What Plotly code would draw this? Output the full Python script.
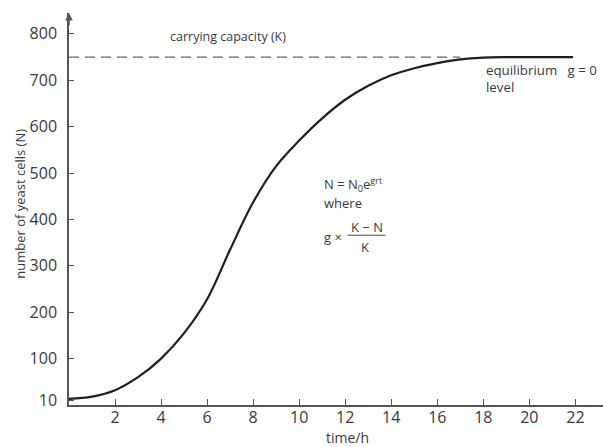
import plotly.graph_objects as go

# Data
time_h = [0, 1, 2, 3, 4, 5, 6, 7, 8, 9, 10, 11, 12, 13, 14, 15, 16, 17, 18, 19, 20, 21, 21.9]
cells_N = [13, 18, 32, 60, 100, 155, 228, 335, 437, 515, 570, 618, 658, 688, 711, 726, 737, 745, 749, 750, 750, 750, 750]

carrying_capacity_K = 750
k_line_time = [0, 17]

x_ticks = [2, 4, 6, 8, 10, 12, 14, 16, 18, 20, 22]
y_ticks = [10, 100, 200, 300, 400, 500, 600, 700, 800]

FONT = "Open Sans"
TXT = "#3a3a3a"
AX = "#555555"

fig = go.Figure()

fig.add_trace(go.Scatter(
    x=k_line_time, y=[carrying_capacity_K] * len(k_line_time),
    mode="lines", line=dict(color="#666666", width=1.2, dash="10px,6px"),
    hoverinfo="skip", showlegend=False))

fig.add_trace(go.Scatter(
    x=time_h, y=cells_N, mode="lines",
    line=dict(color="#1e1e1e", width=2.2, shape="spline", smoothing=1.0),
    showlegend=False))

fig.update_layout(
    width=603, height=447,
    margin=dict(l=69, r=0, t=13, b=42, autoexpand=False),
    paper_bgcolor="white", plot_bgcolor="white",
    font=dict(family=FONT, color=TXT, size=15),
    xaxis=dict(range=[0, 23.2], tickvals=x_ticks, ticks="inside", ticklen=6,
               tickcolor=AX, showline=True, linecolor=AX, linewidth=1.5,
               showgrid=False, zeroline=False, tickfont=dict(size=16, color=TXT),
               ticklabelstandoff=-3, automargin=False, fixedrange=True),
    yaxis=dict(range=[0, 845], tickvals=y_ticks, ticks="inside", ticklen=5,
               tickcolor=AX, showline=True, linecolor=AX, linewidth=1.5,
               showgrid=False, zeroline=False, tickfont=dict(size=16, color=TXT),
               ticklabelstandoff=7, automargin=False, fixedrange=True),
)

anns = [
    # arrow at top of y axis
    dict(x=0, y=845, ax=0, ay=815, xref="x", yref="y", axref="x", ayref="y",
         showarrow=True, arrowhead=2, arrowsize=1, arrowwidth=1.5, arrowcolor=AX, text=""),
    dict(x=6.9, y=795, xref="x", yref="y", text="carrying capacity (K)",
         showarrow=False, xanchor="center", yanchor="middle", font=dict(size=12.5)),
    dict(x=18.05, y=745, xref="x", yref="y",
         text="equilibrium&nbsp;&nbsp;&nbsp;g = 0<br>level",
         showarrow=False, xanchor="left", yanchor="top", align="left", font=dict(size=13.3)),
    dict(x=11.0, y=476, xref="x", yref="y",
         text="N = N<sub>0</sub>e<sup>grt</sup>",
         showarrow=False, xanchor="left", yanchor="middle", font=dict(size=13)),
    dict(x=11.0, y=435, xref="x", yref="y", text="where",
         showarrow=False, xanchor="left", yanchor="middle", font=dict(size=13)),
    dict(x=11.0, y=362, xref="x", yref="y", text="g ×",
         showarrow=False, xanchor="left", yanchor="middle", font=dict(size=13)),
    dict(x=12.95, y=384, xref="x", yref="y", text="K − N",
         showarrow=False, xanchor="center", yanchor="middle", font=dict(size=13, color=TXT)),
    dict(x=12.85, y=340, xref="x", yref="y", text="K",
         showarrow=False, xanchor="center", yanchor="middle", font=dict(size=13, color=TXT)),
    dict(x=-0.092, y=0.513, xref="paper", yref="paper", text="number of yeast cells (N)",
         textangle=-90, showarrow=False, xanchor="center", yanchor="middle", font=dict(size=13)),
    dict(x=12.1, y=-0.084, xref="x", yref="paper", text="time/h",
         showarrow=False, xanchor="center", yanchor="middle", font=dict(size=14)),
]
fig.update_layout(annotations=anns)

fig.add_shape(type="line", xref="x", yref="y", x0=12.1, x1=13.75, y0=366, y1=366,
              line=dict(color="#444444", width=1))

fig.write_html("out.html", config={"displayModeBar": False},
               post_script="document.body.style.margin='0';document.body.style.overflow='hidden';")
